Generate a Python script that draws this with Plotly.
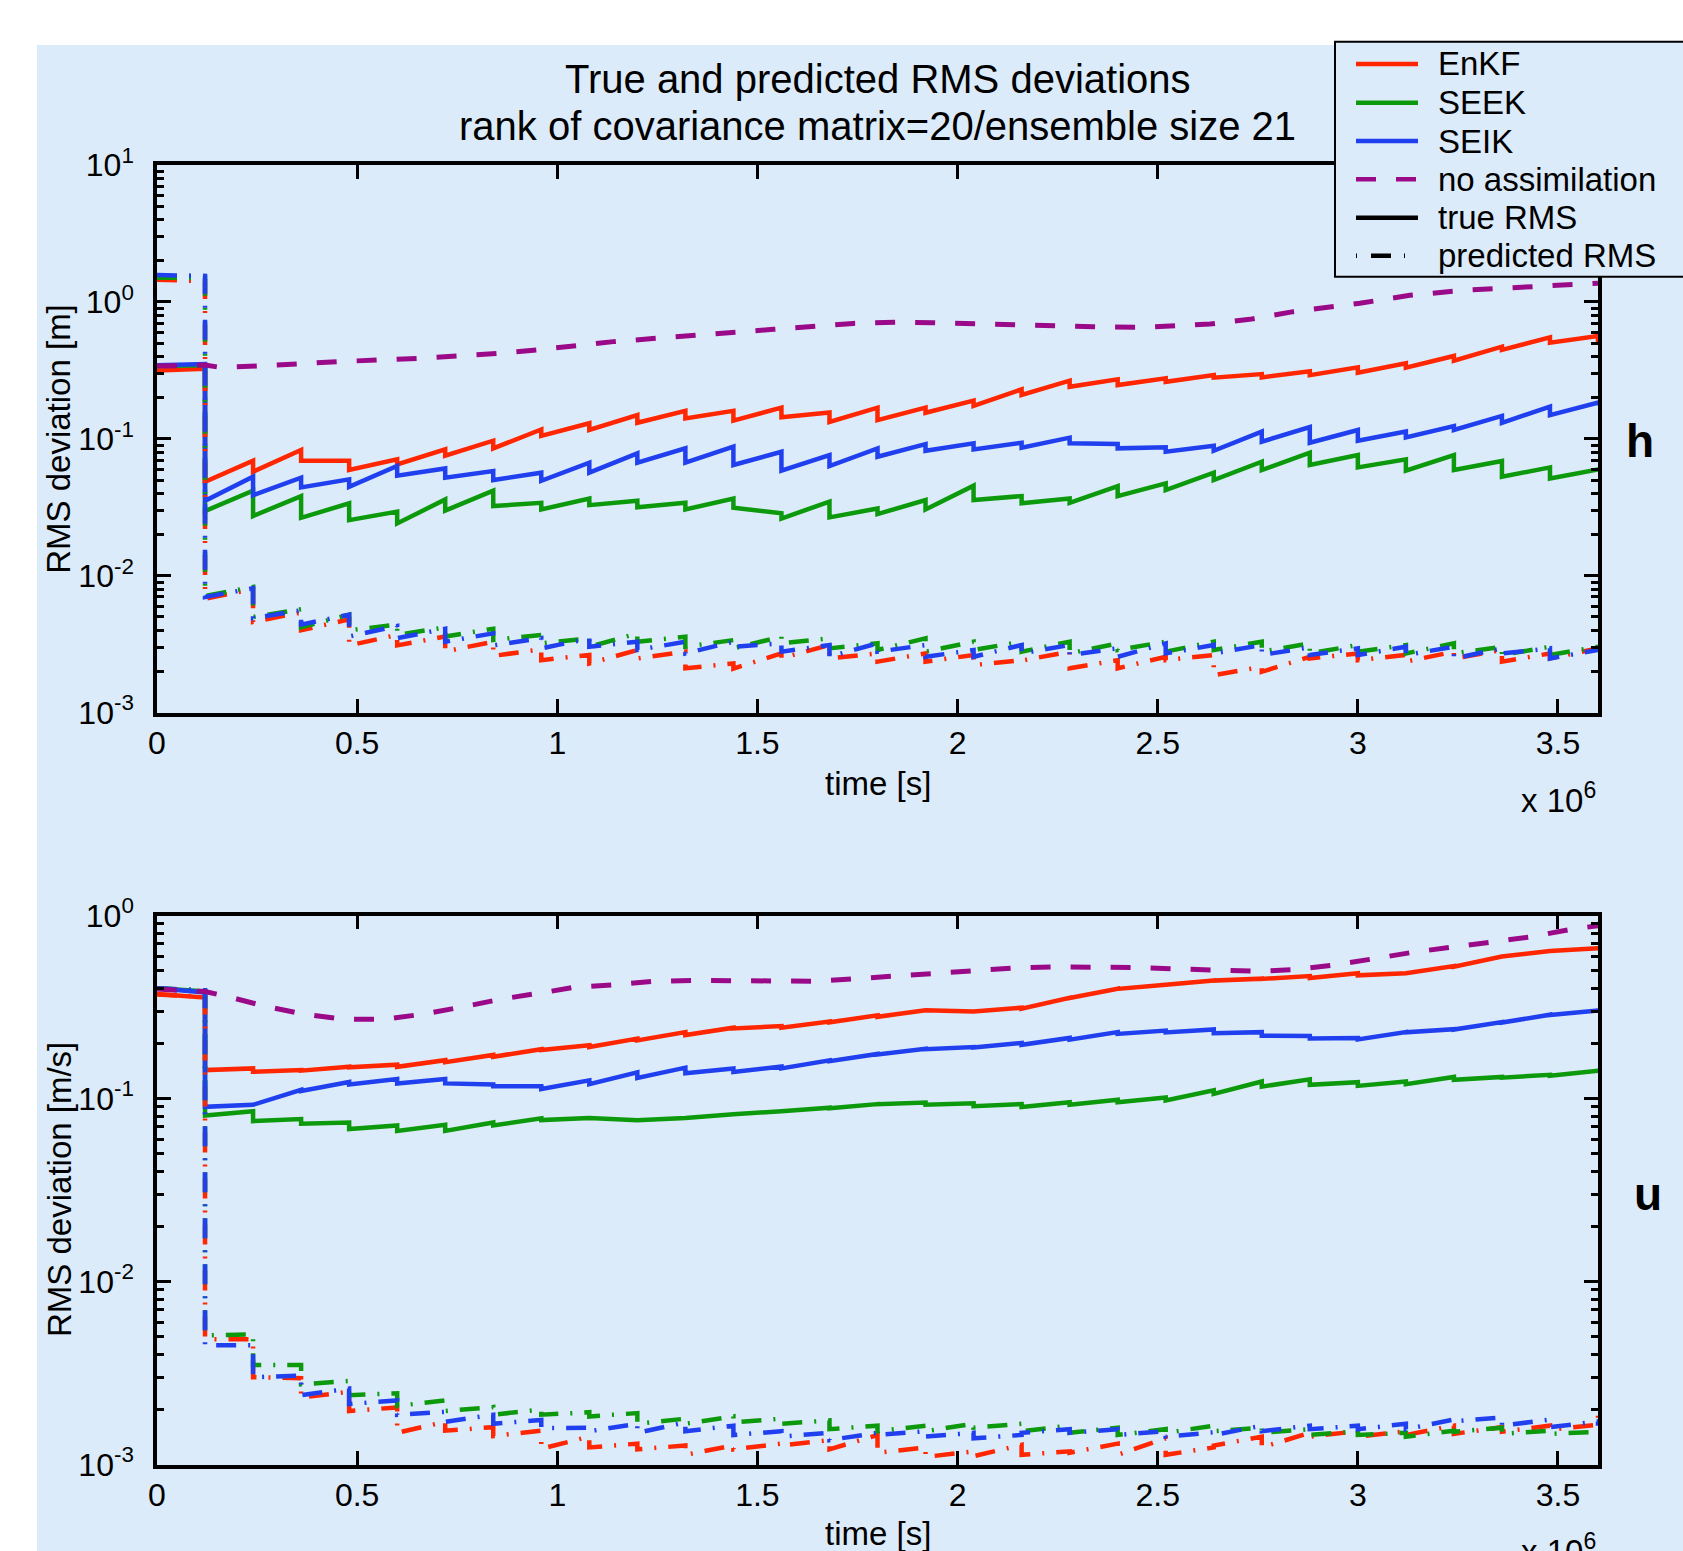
import plotly.graph_objects as go

W, H = 1683, 1551

# ---------------- data ----------------
ANALYSIS_TIMES = [120000, 240000, 360000, 480000, 600000, 720000, 840000, 960000, 1080000, 1200000,
                  1320000, 1440000, 1560000, 1680000, 1800000, 1920000, 2040000, 2160000, 2280000, 2400000,
                  2520000, 2640000, 2760000, 2880000, 3000000, 3120000, 3240000, 3360000, 3480000, 3600000]

# ---- h panel, true RMS (value at t=0, value before each analysis, value after each analysis)
H_ENKF_TRUE_START = 0.315
H_ENKF_TRUE_FCST = [0.325, 0.0692, 0.0828, 0.0692, 0.0708, 0.0838, 0.0969, 0.117, 0.130, 0.149,
                    0.160, 0.160, 0.169, 0.156, 0.169, 0.169, 0.190, 0.230, 0.266, 0.272,
                    0.277, 0.292, 0.297, 0.312, 0.333, 0.356, 0.403, 0.471, 0.551, 0.564]
H_ENKF_TRUE_ANAL = [0.0486, 0.0575, 0.0692, 0.0592, 0.0651, 0.0754, 0.0852, 0.105, 0.116, 0.131,
                    0.141, 0.136, 0.144, 0.133, 0.137, 0.155, 0.174, 0.209, 0.240, 0.247,
                    0.261, 0.280, 0.281, 0.292, 0.304, 0.331, 0.372, 0.446, 0.504, 0.490]

H_SEEK_TRUE_START = 0.340
H_SEEK_TRUE_FCST = [0.345, 0.0418, 0.0382, 0.0338, 0.0294, 0.0361, 0.0418, 0.0341, 0.0367, 0.0353,
                    0.0341, 0.0367, 0.0286, 0.0348, 0.0310, 0.0357, 0.0455, 0.0382, 0.0367, 0.0452,
                    0.0473, 0.0566, 0.0681, 0.0792, 0.0762, 0.0708, 0.0762, 0.0689, 0.0619, 0.0598]
H_SEEK_TRUE_ANAL = [0.0297, 0.0273, 0.0265, 0.0255, 0.0241, 0.0299, 0.0323, 0.0305, 0.0328, 0.0316,
                    0.0305, 0.0314, 0.0262, 0.0267, 0.0282, 0.0305, 0.0357, 0.0338, 0.0341, 0.0382,
                    0.0423, 0.0500, 0.0592, 0.0644, 0.0619, 0.0585, 0.0592, 0.0529, 0.0514, 0.0580]

H_SEIK_TRUE_START = 0.345
H_SEIK_TRUE_FCST = [0.352, 0.0529, 0.0520, 0.0506, 0.0633, 0.0608, 0.0582, 0.0566, 0.0670, 0.0783,
                    0.0852, 0.0877, 0.0805, 0.0762, 0.0852, 0.0916, 0.0927, 0.0937, 0.102, 0.0916,
                    0.0867, 0.0891, 0.113, 0.122, 0.116, 0.113, 0.124, 0.147, 0.172, 0.184]
H_SEIK_TRUE_ANAL = [0.0353, 0.0388, 0.0442, 0.0447, 0.0538, 0.0520, 0.0500, 0.0494, 0.0566, 0.0670,
                    0.0670, 0.0644, 0.0585, 0.0633, 0.0740, 0.0818, 0.0838, 0.0861, 0.0927, 0.0852,
                    0.0805, 0.0818, 0.0953, 0.0937, 0.0969, 0.1025, 0.116, 0.131, 0.149, 0.175]

# ---- h panel, predicted RMS
H_ENKF_PRED_START = 1.45
H_ENKF_PRED_FCST = [1.42, 0.0080, 0.0054, 0.0048, 0.0037, 0.0036, 0.0033, 0.0029, 0.00264, 0.00287,
                    0.00279, 0.00229, 0.00271, 0.00312, 0.00271, 0.00271, 0.00264, 0.00242, 0.00279, 0.00242,
                    0.00256, 0.00264, 0.00216, 0.00256, 0.00271, 0.00264, 0.00279, 0.00287, 0.00271, 0.00295]
H_ENKF_PRED_ANAL = [0.0068, 0.0046, 0.0040, 0.0031, 0.0031, 0.0028, 0.0026, 0.00242, 0.00229, 0.00249,
                    0.00211, 0.00210, 0.00250, 0.00249, 0.00236, 0.00236, 0.00223, 0.00240, 0.00211, 0.00211,
                    0.00242, 0.00188, 0.00199, 0.00249, 0.00242, 0.00236, 0.00249, 0.00236, 0.00249, 0.0033]

H_SEEK_PRED_START = 1.50
H_SEEK_PRED_FCST = [1.50, 0.0083, 0.0057, 0.0052, 0.0044, 0.0042, 0.0041, 0.0037, 0.00349, 0.00379,
                    0.00359, 0.00339, 0.00359, 0.00349, 0.00321, 0.00349, 0.00330, 0.00330, 0.00330, 0.00321,
                    0.00330, 0.00330, 0.00330, 0.00321, 0.00312, 0.00312, 0.00321, 0.00303, 0.00303, 0.00303]
H_SEEK_PRED_ANAL = [0.0071, 0.0050, 0.0042, 0.0040, 0.0037, 0.0036, 0.0034, 0.00321, 0.00303, 0.00330,
                    0.00303, 0.00295, 0.00321, 0.00295, 0.00287, 0.00279, 0.00287, 0.00279, 0.00271, 0.00287,
                    0.00279, 0.00287, 0.00279, 0.00271, 0.00279, 0.00271, 0.00271, 0.00264, 0.00264, 0.0029]

H_SEIK_PRED_START = 1.57
H_SEIK_PRED_FCST = [1.55, 0.0081, 0.0056, 0.0052, 0.0043, 0.0041, 0.0038, 0.0035, 0.00349, 0.00330,
                    0.00330, 0.00330, 0.00321, 0.00312, 0.00321, 0.00312, 0.00287, 0.00312, 0.00312, 0.00295,
                    0.00321, 0.00312, 0.00312, 0.00300, 0.00295, 0.00303, 0.00303, 0.00295, 0.00295, 0.00287]
H_SEIK_PRED_ANAL = [0.0070, 0.0049, 0.0044, 0.0036, 0.0035, 0.0033, 0.0031, 0.00295, 0.00303, 0.00287,
                    0.00271, 0.00303, 0.00279, 0.00256, 0.00279, 0.00256, 0.00256, 0.00271, 0.00264, 0.00256,
                    0.00271, 0.00271, 0.00264, 0.00264, 0.00264, 0.00264, 0.00249, 0.00271, 0.00249, 0.0028]

# ---- h panel, no assimilation
H_NOASSIM_T = [0, 120000, 157000, 249000, 449000, 649000, 849000, 949000, 1140000, 1340000,
               1540000, 1739000, 1848000, 1939000, 2131000, 2339000, 2464000, 2631000, 2730000, 2839000,
               3005000, 3130000, 3272000, 3438000, 3546000, 3600000]
H_NOASSIM_V = [0.340, 0.346, 0.333, 0.340, 0.366, 0.387, 0.421, 0.446, 0.513, 0.564,
               0.631, 0.697, 0.710, 0.705, 0.678, 0.659, 0.652, 0.690, 0.746, 0.849,
               0.977, 1.12, 1.22, 1.29, 1.35, 1.37]

# ---- u panel, true RMS
U_ENKF_TRUE_START = 0.372
U_ENKF_TRUE_FCST = [0.356, 0.146, 0.143, 0.149, 0.153, 0.162, 0.173, 0.186, 0.1955, 0.2125,
                    0.2305, 0.2437, 0.249, 0.2633, 0.2846, 0.3034, 0.2992, 0.3135, 0.3545, 0.3974,
                    0.418, 0.4416, 0.4517, 0.4665, 0.484, 0.484, 0.529, 0.597, 0.639, 0.663]
U_ENKF_TRUE_ANAL = [0.143, 0.140, 0.142, 0.148, 0.149, 0.158, 0.169, 0.184, 0.191, 0.2076,
                    0.2223, 0.2414, 0.2437, 0.2609, 0.2795, 0.3034, 0.2992, 0.310, 0.354, 0.397,
                    0.418, 0.441, 0.450, 0.456, 0.471, 0.484, 0.525, 0.597, 0.639, 0.655]

U_SEEK_TRUE_START = 0.400
U_SEEK_TRUE_FCST = [0.385, 0.0852, 0.0772, 0.0739, 0.0712, 0.0718, 0.0739, 0.0779, 0.0783, 0.0760,
                    0.0783, 0.0821, 0.0851, 0.0891, 0.0932, 0.0950, 0.0941, 0.0932, 0.0955, 0.0985,
                    0.1013, 0.1110, 0.1239, 0.1273, 0.1227, 0.1239, 0.1312, 0.1312, 0.1347, 0.1419]
U_SEEK_TRUE_ANAL = [0.0807, 0.0752, 0.0728, 0.0681, 0.0665, 0.0665, 0.0712, 0.0762, 0.0783, 0.0760,
                    0.0783, 0.0821, 0.0851, 0.0885, 0.0930, 0.0924, 0.0908, 0.0899, 0.0924, 0.0955,
                    0.0976, 0.1060, 0.1161, 0.1188, 0.1172, 0.1198, 0.1265, 0.1300, 0.1330, 0.1400]

U_SEIK_TRUE_START = 0.400
U_SEIK_TRUE_FCST = [0.380, 0.0924, 0.1116, 0.1232, 0.1277, 0.1277, 0.1194, 0.1167, 0.1256, 0.1390,
                    0.1474, 0.1460, 0.1494, 0.1616, 0.1752, 0.1870, 0.1910, 0.2010, 0.2143, 0.2305,
                    0.2350, 0.2383, 0.2305, 0.2193, 0.2143, 0.2305, 0.2392, 0.2614, 0.2870, 0.3027]
U_SEIK_TRUE_ANAL = [0.0900, 0.0924, 0.1100, 0.1194, 0.1209, 0.1209, 0.1167, 0.1126, 0.1198, 0.1296,
                    0.1375, 0.1394, 0.1460, 0.1600, 0.1740, 0.1860, 0.1900, 0.1965, 0.2096, 0.2254,
                    0.2297, 0.2275, 0.2205, 0.2125, 0.2104, 0.2300, 0.2380, 0.2600, 0.2860, 0.3000]

# ---- u panel, predicted RMS
U_ENKF_PRED_START = 0.370
U_ENKF_PRED_FCST = [0.360, 0.00484, 0.00296, 0.00250, 0.00205, 0.00171, 0.00160, 0.00153, 0.00142, 0.00130,
                    0.00127, 0.00127, 0.00130, 0.00136, 0.00145, 0.00124, 0.00118, 0.00128, 0.00118, 0.00130,
                    0.00139, 0.00124, 0.00142, 0.00149, 0.00152, 0.00152, 0.00163, 0.00160, 0.00163, 0.00165]
U_ENKF_PRED_ANAL = [0.00484, 0.00300, 0.00232, 0.00196, 0.00149, 0.00153, 0.00143, 0.00122, 0.00124, 0.00121,
                    0.00113, 0.00121, 0.00127, 0.00121, 0.00116, 0.00110, 0.00111, 0.00113, 0.00116, 0.00113,
                    0.00113, 0.00127, 0.00124, 0.00142, 0.00142, 0.00145, 0.00147, 0.00151, 0.00155, 0.00190]

U_SEEK_PRED_START = 0.400
U_SEEK_PRED_FCST = [0.390, 0.00514, 0.00350, 0.00286, 0.00245, 0.00224, 0.00206, 0.00200, 0.00193, 0.00191,
                    0.00178, 0.00183, 0.00178, 0.00174, 0.00163, 0.00163, 0.00167, 0.00167, 0.00163, 0.00159,
                    0.00156, 0.00163, 0.00159, 0.00156, 0.00152, 0.00149, 0.00153, 0.00159, 0.00153, 0.00151]
U_SEEK_PRED_ANAL = [0.00507, 0.00350, 0.00274, 0.00239, 0.00209, 0.00196, 0.00187, 0.00187, 0.00183, 0.00167,
                    0.00167, 0.00170, 0.00167, 0.00156, 0.00152, 0.00152, 0.00159, 0.00152, 0.00149, 0.00145,
                    0.00149, 0.00152, 0.00149, 0.00145, 0.00145, 0.00142, 0.00151, 0.00147, 0.00147, 0.00147]

U_SEIK_PRED_START = 0.400
U_SEIK_PRED_FCST = [0.390, 0.00449, 0.00306, 0.00260, 0.00224, 0.00194, 0.00187, 0.00175, 0.00159, 0.00167,
                    0.00170, 0.00163, 0.00152, 0.00149, 0.00149, 0.00152, 0.00149, 0.00145, 0.00156, 0.00156,
                    0.00152, 0.00150, 0.00163, 0.00163, 0.00163, 0.00167, 0.00176, 0.00181, 0.00176, 0.00172]
U_SEIK_PRED_ANAL = [0.00449, 0.00300, 0.00239, 0.00214, 0.00187, 0.00171, 0.00167, 0.00158, 0.00152, 0.00149,
                    0.00152, 0.00145, 0.00142, 0.00136, 0.00145, 0.00142, 0.00139, 0.00149, 0.00149, 0.00145,
                    0.00142, 0.00145, 0.00152, 0.00156, 0.00156, 0.00156, 0.00172, 0.00163, 0.00160, 0.00163]

# ---- u panel, no assimilation
U_NOASSIM_T = [0, 120000, 174000, 266000, 366000, 466000, 566000, 665000, 765000, 865000,
               965000, 1040000, 1140000, 1240000, 1348000, 1448000, 1548000, 1648000, 1748000, 1848000,
               1948000, 2048000, 2139000, 2239000, 2339000, 2439000, 2539000, 2639000, 2755000, 2839000,
               2939000, 3039000, 3140000, 3230000, 3330000, 3430000, 3530000, 3600000]
U_NOASSIM_V = [0.396, 0.384, 0.362, 0.321, 0.289, 0.271, 0.271, 0.289, 0.317, 0.351,
               0.379, 0.405, 0.418, 0.4375, 0.4416, 0.4416, 0.4355, 0.4375, 0.4517, 0.469,
               0.484, 0.502, 0.516, 0.523, 0.525, 0.520, 0.511, 0.502, 0.495, 0.506,
               0.535, 0.580, 0.631, 0.669, 0.709, 0.763, 0.838, 0.880]

X_TICK_VALS = [0, 500000, 1000000, 1500000, 2000000, 2500000, 3000000, 3500000]
X_TICK_TEXT = ["0", "0.5", "1", "1.5", "2", "2.5", "3", "3.5"]
H_Y_TICK_VALS = [0.001, 0.01, 0.1, 1, 10]
H_Y_TICK_TEXT = ["10<sup>-3</sup>", "10<sup>-2</sup>", "10<sup>-1</sup>", "10<sup>0</sup>", "10<sup>1</sup>"]
U_Y_TICK_VALS = [0.001, 0.01, 0.1, 1]
U_Y_TICK_TEXT = ["10<sup>-3</sup>", "10<sup>-2</sup>", "10<sup>-1</sup>", "10<sup>0</sup>"]

# ---------------- styling ----------------
RED = "#ff2600"
GREEN = "#0c9a0c"
BLUE = "#2040f0"
PURPLE = "#9a0a88"
BG = "#dcebf9"
FONT = "Liberation Sans, Arial, Helvetica, sans-serif"
PRED_DASH = "20px,12px,2px,12px"
NOASSIM_DASH = "20px,20px"
LW = 4.5


def X(p):
    return p / W


def Y(p):
    return 1 - p / H


def sawtooth(start, fcst, anal):
    xs, ys = [0], [start]
    for t, f, a in zip(ANALYSIS_TIMES, fcst, anal):
        xs += [t, t]
        ys += [f, a]
    return xs, ys


fig = go.Figure()

panels = [
    ("x", "y",
     [(H_ENKF_TRUE_START, H_ENKF_TRUE_FCST, H_ENKF_TRUE_ANAL, RED, "EnKF"),
      (H_SEEK_TRUE_START, H_SEEK_TRUE_FCST, H_SEEK_TRUE_ANAL, GREEN, "SEEK"),
      (H_SEIK_TRUE_START, H_SEIK_TRUE_FCST, H_SEIK_TRUE_ANAL, BLUE, "SEIK")],
     [(H_ENKF_PRED_START, H_ENKF_PRED_FCST, H_ENKF_PRED_ANAL, RED, "EnKF predicted"),
      (H_SEEK_PRED_START, H_SEEK_PRED_FCST, H_SEEK_PRED_ANAL, GREEN, "SEEK predicted"),
      (H_SEIK_PRED_START, H_SEIK_PRED_FCST, H_SEIK_PRED_ANAL, BLUE, "SEIK predicted")],
     (H_NOASSIM_T, H_NOASSIM_V)),
    ("x2", "y2",
     [(U_ENKF_TRUE_START, U_ENKF_TRUE_FCST, U_ENKF_TRUE_ANAL, RED, "EnKF"),
      (U_SEEK_TRUE_START, U_SEEK_TRUE_FCST, U_SEEK_TRUE_ANAL, GREEN, "SEEK"),
      (U_SEIK_TRUE_START, U_SEIK_TRUE_FCST, U_SEIK_TRUE_ANAL, BLUE, "SEIK")],
     [(U_ENKF_PRED_START, U_ENKF_PRED_FCST, U_ENKF_PRED_ANAL, RED, "EnKF predicted"),
      (U_SEEK_PRED_START, U_SEEK_PRED_FCST, U_SEEK_PRED_ANAL, GREEN, "SEEK predicted"),
      (U_SEIK_PRED_START, U_SEIK_PRED_FCST, U_SEIK_PRED_ANAL, BLUE, "SEIK predicted")],
     (U_NOASSIM_T, U_NOASSIM_V)),
]

for xa, ya, trues, preds, noassim in panels:
    for start, fc, an, col, name in trues:
        xs, ys = sawtooth(start, fc, an)
        fig.add_trace(go.Scatter(x=xs, y=ys, mode="lines", name=name, xaxis=xa, yaxis=ya,
                                 line=dict(color=col, width=LW, simplify=False), showlegend=False))
    for start, fc, an, col, name in preds:
        xs, ys = sawtooth(start, fc, an)
        fig.add_trace(go.Scatter(x=xs, y=ys, mode="lines", name=name, xaxis=xa, yaxis=ya,
                                 line=dict(color=col, width=LW, dash=PRED_DASH, simplify=False),
                                 showlegend=False))
    fig.add_trace(go.Scatter(x=noassim[0], y=noassim[1], mode="lines", name="no assimilation",
                             xaxis=xa, yaxis=ya, line=dict(color=PURPLE, width=5, dash=NOASSIM_DASH),
                             showlegend=False))

tickfont = dict(family=FONT, size=32, color="black")


def xaxis_cfg(anchor):
    return dict(domain=[X(157), X(1598)], anchor=anchor, range=[0, 3600000], automargin=False,
                tickmode="array", tickvals=X_TICK_VALS, ticktext=X_TICK_TEXT,
                ticks="inside", ticklen=14, tickwidth=3, tickcolor="black",
                showline=True, linewidth=3.5, linecolor="black", mirror="ticks",
                showgrid=False, zeroline=False, tickfont=tickfont, ticklabelstandoff=-1)


def yaxis_cfg(top, bottom, anchor, rng, tv, tt, decades):
    minor_vals = [m * d for d in decades for m in (2, 3, 4, 5, 6, 7, 8, 9)]
    return dict(domain=[Y(bottom), Y(top)], anchor=anchor, type="log", range=rng, automargin=False,
                tickmode="array", tickvals=tv, ticktext=tt,
                ticks="inside", ticklen=14, tickwidth=3, tickcolor="black",
                minor=dict(tickmode="array", tickvals=minor_vals, ticks="inside", ticklen=7,
                           tickwidth=3, tickcolor="black", showgrid=False),
                showline=True, linewidth=3.5, linecolor="black", mirror="ticks",
                showgrid=False, zeroline=False, tickfont=tickfont, ticklabelstandoff=13)


TOP1, BOT1 = 165, 712.7
TOP2, BOT2 = 915.5, 1464.5

shapes = [
    dict(type="rect", xref="paper", yref="paper", x0=X(37), x1=X(1700), y0=Y(45), y1=Y(1600),
         fillcolor=BG, line=dict(width=0), layer="below"),
    # legend box
    dict(type="rect", xref="paper", yref="paper", x0=X(1335), x1=X(1720), y0=Y(276.7), y1=Y(41.7),
         fillcolor=BG, line=dict(color="black", width=2), layer="above"),
]

legend_rows = [
    ("EnKF", RED, "solid", 64),
    ("SEEK", GREEN, "solid", 102.7),
    ("SEIK", BLUE, "solid", 141),
    ("no assimilation", PURPLE, NOASSIM_DASH, 179.3),
    ("true RMS", "black", "solid", 217.7),
    ("predicted RMS", "black", "1px,14px,20px,13px,1px,14px", 255.7),
]

annotations = []
for label, col, dash, yc in legend_rows:
    shapes.append(dict(type="line", xref="paper", yref="paper", x0=X(1356), x1=X(1418),
                       y0=Y(yc), y1=Y(yc), line=dict(color=col, width=4.5, dash=dash), layer="above"))
    annotations.append(dict(text=label, xref="paper", yref="paper", x=X(1436), y=Y(yc),
                            xanchor="left", yanchor="middle", showarrow=False,
                            font=dict(family=FONT, size=33, color="black")))

txt = dict(family=FONT, size=33, color="black")
annotations += [
    dict(text="True and predicted RMS deviations", x=X(877.5), y=Y(79), xref="paper", yref="paper",
         xanchor="center", yanchor="middle", showarrow=False, font=dict(family=FONT, size=40, color="black")),
    dict(text="rank of covariance matrix=20/ensemble size 21", x=X(877.5), y=Y(125.5), xref="paper",
         yref="paper", xanchor="center", yanchor="middle", showarrow=False,
         font=dict(family=FONT, size=40, color="black")),
    dict(text="time [s]", x=X(877.5), y=Y(783), xref="paper", yref="paper", xanchor="center",
         yanchor="middle", showarrow=False, font=txt),
    dict(text="time [s]", x=X(877.5), y=Y(1533), xref="paper", yref="paper", xanchor="center",
         yanchor="middle", showarrow=False, font=txt),
    dict(text="x 10<sup>6</sup>", x=X(1598), y=Y(798), xref="paper", yref="paper", xanchor="right",
         yanchor="middle", showarrow=False, font=txt),
    dict(text="x 10<sup>6</sup>", x=X(1598), y=Y(1549), xref="paper", yref="paper", xanchor="right",
         yanchor="middle", showarrow=False, font=txt),
    dict(text="RMS deviation [m]", x=X(59), y=Y(438.8), xref="paper", yref="paper", xanchor="center",
         yanchor="middle", textangle=-90, showarrow=False, font=txt),
    dict(text="RMS deviation [m/s]", x=X(59), y=Y(1190), xref="paper", yref="paper", xanchor="center",
         yanchor="middle", textangle=-90, showarrow=False, font=txt),
    dict(text="<b>h</b>", x=X(1640), y=Y(441), xref="paper", yref="paper", xanchor="center",
         yanchor="middle", showarrow=False, font=dict(family=FONT, size=46, color="black")),
    dict(text="<b>u</b>", x=X(1648), y=Y(1194), xref="paper", yref="paper", xanchor="center",
         yanchor="middle", showarrow=False, font=dict(family=FONT, size=46, color="black")),
]

fig.update_layout(
    width=W, height=H, autosize=False,
    margin=dict(l=0, r=0, t=0, b=0, pad=0, autoexpand=False),
    paper_bgcolor="white", plot_bgcolor=BG,
    showlegend=False,
    font=dict(family=FONT, size=32, color="black"),
    xaxis=xaxis_cfg("y"),
    yaxis=yaxis_cfg(TOP1, BOT1, "x", [-3, 1], H_Y_TICK_VALS, H_Y_TICK_TEXT, [0.001, 0.01, 0.1, 1]),
    xaxis2=xaxis_cfg("y2"),
    yaxis2=yaxis_cfg(TOP2, BOT2, "x2", [-3, 0], U_Y_TICK_VALS, U_Y_TICK_TEXT, [0.001, 0.01, 0.1]),
    shapes=shapes,
    annotations=annotations,
)

# keep the page exactly the size of the figure (no default body margin / scrollbars)
PAGE_FIX = ("document.documentElement.style.margin='0';document.documentElement.style.padding='0';"
            "document.documentElement.style.overflow='hidden';document.body.style.margin='0';"
            "document.body.style.padding='0';document.body.style.overflow='hidden';")

fig.write_html("out.html", post_script=PAGE_FIX, config={"displayModeBar": False})
